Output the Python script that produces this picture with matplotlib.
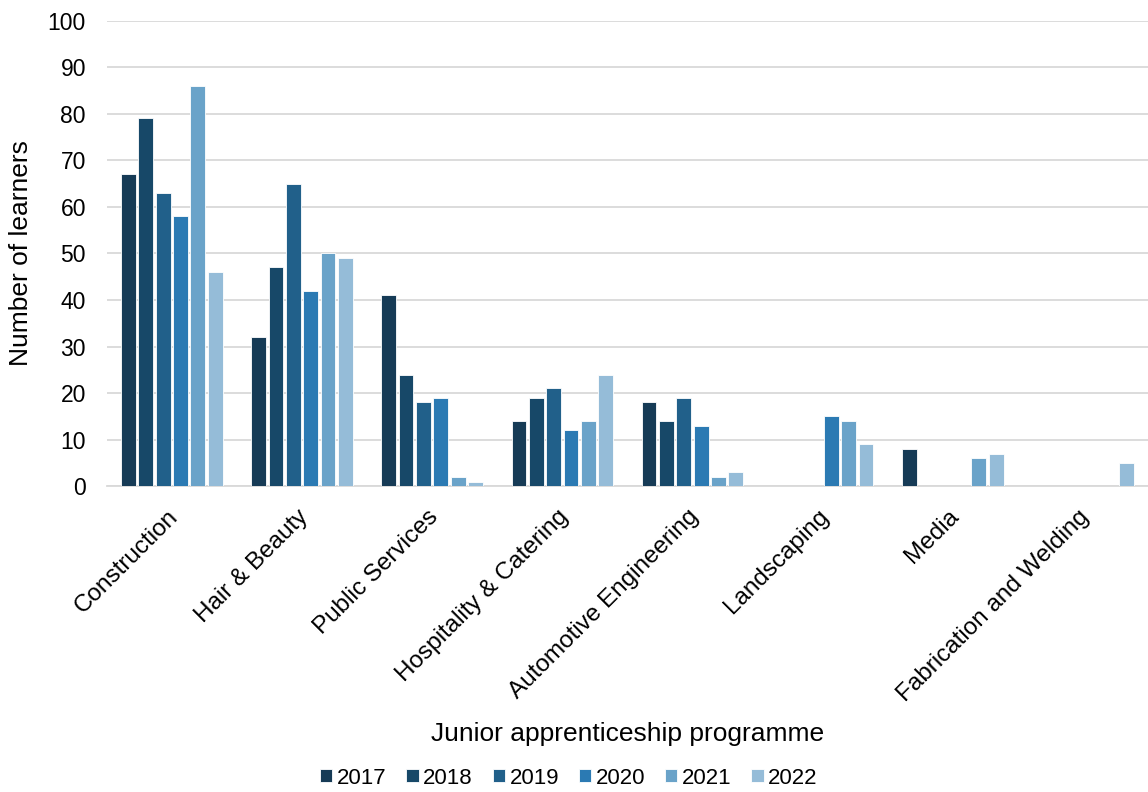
import numpy as np
import matplotlib
matplotlib.use("Agg")
import matplotlib.pyplot as plt
from matplotlib.transforms import ScaledTranslation

plt.rcParams['font.family'] = ['Liberation Sans', 'DejaVu Sans']

programmes = ['Construction', 'Hair & Beauty', 'Public Services', 'Hospitality & Catering',
              'Automotive Engineering', 'Landscaping', 'Media', 'Fabrication and Welding']
years = ['2017', '2018', '2019', '2020', '2021', '2022']
colours = ['#163b56', '#174868', '#21608a', '#2b7ab3', '#6aa3c9', '#95bcd8']

v2017 = [67, 32, 41, 14, 18, 0, 8, 0]
v2018 = [79, 47, 24, 19, 14, 0, 0, 0]
v2019 = [63, 65, 18, 21, 19, 0, 0, 0]
v2020 = [58, 42, 19, 12, 13, 15, 0, 0]
v2021 = [86, 50, 2, 14, 2, 14, 6, 0]
v2022 = [46, 49, 1, 24, 3, 9, 7, 5]
series = [v2017, v2018, v2019, v2020, v2021, v2022]

fig = plt.figure(figsize=(11.48, 7.92), dpi=100)
ax = fig.add_axes([0.093, 0.386, 0.907, 0.588])

x = np.arange(len(programmes))
slot = 1 / 7.5
for i, vals in enumerate(series):
    ax.bar(x + (i - 2.5) * slot, vals, width=slot * 0.85, color=colours[i],
           edgecolor='white', linewidth=0.6, label=years[i], zorder=3)

ax.set_xlim(-0.5, 7.5)
ax.set_ylim(0, 100)
ax.set_yticks(range(0, 101, 10))
ax.grid(axis='y', color='#d9d9d9', linewidth=1.3, zorder=0)
for s in ['top', 'right', 'left']:
    ax.spines[s].set_visible(False)
ax.spines['bottom'].set_color('#d9d9d9')
ax.spines['bottom'].set_linewidth(1.3)
ax.tick_params(length=0)
ax.tick_params(axis='y', pad=15, labelsize=16.5)
ax.tick_params(axis='x', pad=14, labelsize=17.5)
ax.set_xticks(x)
ax.set_xticklabels(programmes, rotation=45, ha='right', rotation_mode='anchor')
shift = ScaledTranslation(-5 / 100, 0, fig.dpi_scale_trans)
for lab in ax.get_xticklabels():
    lab.set_transform(lab.get_transform() + shift)
ax.set_ylabel('Number of learners', fontsize=19, va='center')
ax.yaxis.set_label_coords(-0.082, 0.5)
ax.set_xlabel('Junior apprenticeship programme', fontsize=19, va='center')
ax.xaxis.set_label_coords(0.5, -0.531)

ax.legend(loc='center', bbox_to_anchor=(0.4955, 1 - 778 / 792), bbox_transform=fig.transFigure,
          ncol=6, frameon=False, fontsize=16, handlelength=0.55, handleheight=0.55,
          handletextpad=0.2, columnspacing=0.9)

plt.savefig("out.png")
